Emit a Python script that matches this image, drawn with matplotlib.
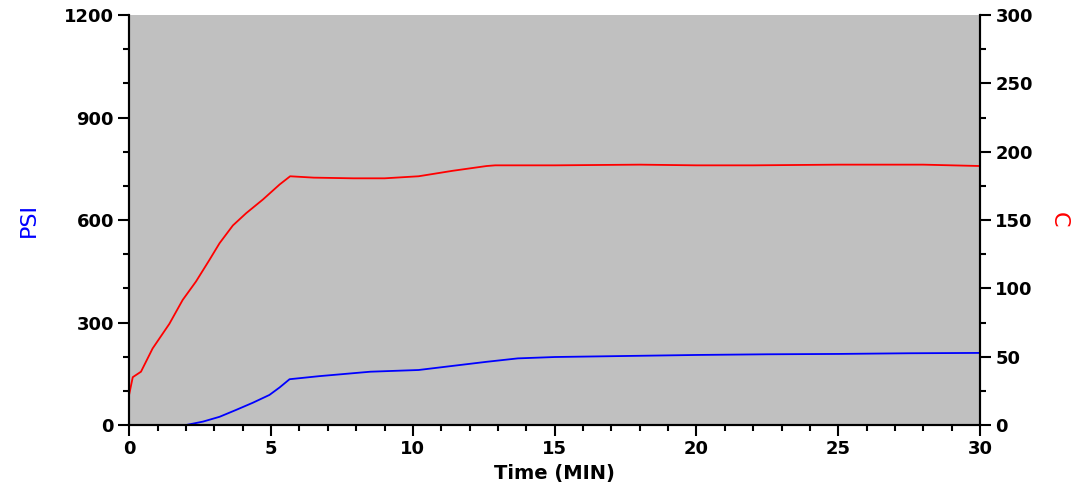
import matplotlib.pyplot as plt
import numpy as np

# temperature (C), right axis
temp_time = [0.0, 0.12, 0.41, 0.82, 1.41, 1.88, 2.35, 2.83, 3.18, 3.65, 4.12, 4.71,
             5.3, 5.67, 6.5, 7.9, 9.0, 10.2, 11.4, 12.6, 12.9, 15, 18, 20, 22, 25, 28, 30]
temp_c = [23, 35, 39, 56, 74, 91.5, 105, 121, 133, 146, 155, 165,
          176, 182, 181, 180.5, 180.5, 182, 186, 189.5, 190, 190, 190.5, 190, 190, 190.5, 190.5, 189.5]

# pressure (PSI), left axis
psi_time = [2.0, 2.6, 3.18, 3.76, 4.35, 4.94, 5.3, 5.65, 6.7, 8.5, 10.2, 11.4,
            12.6, 13.7, 15, 17.5, 20, 22.5, 25, 27.5, 30]
psi = [0, 10, 24, 44, 65, 88, 110, 134, 143, 156, 161, 173,
       185, 195, 199, 202, 205, 207, 208, 210, 211]

plt.rcParams['font.family'] = 'DejaVu Sans'

fig = plt.figure(figsize=(10.87, 4.95), dpi=100)
ax = fig.add_axes([0.119, 0.1414, 0.7826, 0.8283])
ax.set_facecolor('#c0c0c0')
ax2 = ax.twinx()

ax.plot(psi_time, psi, color='#0000ff', lw=1.3)
ax2.plot(temp_time, temp_c, color='#ff0000', lw=1.3)

ax.set_xlim(0, 30)
ax.set_ylim(0, 1200)
ax2.set_ylim(0, 300)

ax.set_xticks(np.arange(0, 31, 5))
ax.set_xticks(np.arange(0, 31, 1), minor=True)
ax.set_yticks(np.arange(0, 1201, 300))
ax.set_yticks(np.arange(0, 1201, 100), minor=True)
ax2.set_yticks(np.arange(0, 301, 50))
ax2.set_yticks(np.arange(0, 301, 25), minor=True)

for a in (ax, ax2):
    a.tick_params(which='major', length=8, width=1.5, labelsize=13, pad=3)
    a.tick_params(which='minor', length=4.5, width=1.5)
    for lab in a.get_xticklabels() + a.get_yticklabels():
        lab.set_fontweight('bold')
    for s in a.spines.values():
        s.set_linewidth(1.5)
    a.spines['top'].set_visible(False)

ax.set_xlabel('Time (MIN)', fontsize=14, fontweight='bold', labelpad=4)
ax.set_ylabel('PSI', fontsize=16, color='#0000ff', labelpad=18)
ax2.set_ylabel('C', fontsize=16, color='#ff0000', rotation=270, labelpad=26)

fig.savefig('out.png', dpi=100)
